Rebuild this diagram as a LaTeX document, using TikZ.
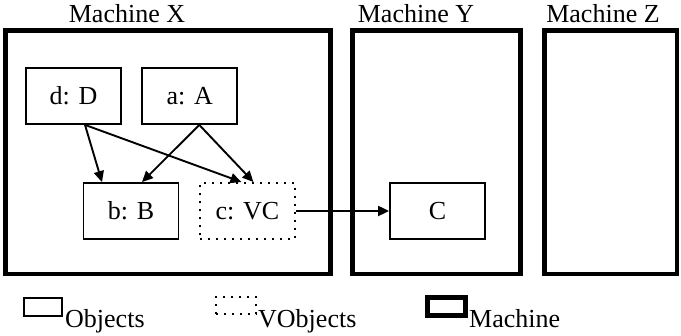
\documentclass[tikz,border=0pt]{standalone}
\usepackage{fontspec}
\setmainfont{Liberation Serif}
\usetikzlibrary{arrows.meta, positioning}
\tikzset{
    machine/.style={
        rectangle,
        draw=black,
        line width=4.5pt,
        inner sep=0pt
    },
    object/.style={
        rectangle,
        draw=black,
        line width=1.8pt,
        minimum width=95pt,
        minimum height=56pt,
        fill=white,
        font=\fontsize{26}{30}\selectfont
    },
    vobject/.style={
        object,
        line width=2pt,
        dash pattern=on 2pt off 6pt
    },
    link/.style={
        draw=black,
        line width=1.9pt,
        -{Triangle[length=11pt,width=10pt]}
    },
    title/.style={
        anchor=base,
        inner sep=0pt,
        font=\fontsize{26}{30}\selectfont
    },
    keytext/.style={
        anchor=base west,
        inner sep=0pt,
        font=\fontsize{26}{30}\selectfont
    }
}

\begin{document}
\begin{tikzpicture}[x=1pt, y=-1pt]

\useasboundingbox (0,0) rectangle (681,336);

% Machines
\node[machine, minimum width=325pt, minimum height=243.5pt] (mX) at (168,152.25) {};
\node[machine, minimum width=168pt, minimum height=243.5pt] (mY) at (436.5,152.25) {};
\node[machine, minimum width=132.5pt, minimum height=243.5pt] (mZ) at (610.75,152.25) {};

\node[title] (tX) at (127,23) {Machine X};
\node[title] (tY) at (416,23) {Machine Y};
\node[title] (tZ) at (603,23) {Machine Z};

% Objects in machine X
\node[object] (dD) at (73.5,96) {d: D};
\node[object, right=19.5pt of dD] (aA) {a: A};
\node[object] (bB) at (131,211) {b: B};
\node[vobject, right=19.5pt of bB] (cVC) {c: VC};

% Object in machine Y
\node[object] (C) at (437.5,211) {C};

% References
\draw[link] ([xshift=11.5pt]dD.south) -- ([xshift=-29pt]bB.north);
\draw[link] ([xshift=11.5pt]dD.south) -- ([xshift=-6pt]cVC.north);
\draw[link] ([xshift=9.5pt]aA.south) -- ([xshift=11pt]bB.north);
\draw[link] ([xshift=9.5pt]aA.south) -- ([xshift=6pt]cVC.north);
\draw[link] (cVC.east) -- (C.west);

% Legend
\node[object, minimum width=38pt, minimum height=18pt, line width=2.6pt] (kObj) at (43,307) {};
\node[keytext] (kObjText) at (65,328) {Objects};

\node[vobject, minimum width=40pt, minimum height=17pt] (kVObj) at (236,306) {};
\node[keytext] (kVObjText) at (258,328) {VObjects};

\node[machine, minimum width=38pt, minimum height=18pt] (kMach) at (446.5,306.5) {};
\node[keytext] (kMachText) at (469,328) {Machine};

\end{tikzpicture}
\end{document}
